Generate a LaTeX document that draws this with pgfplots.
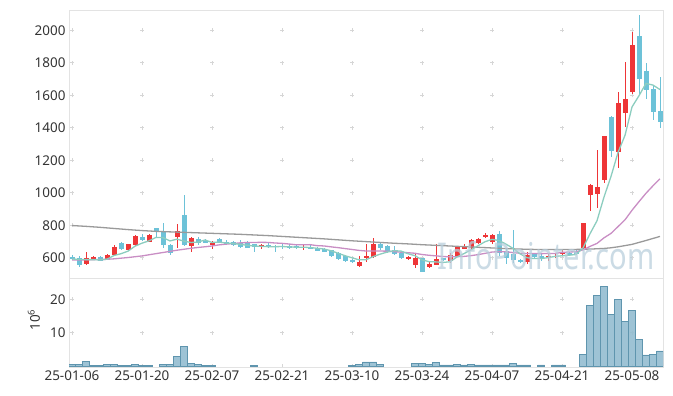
\documentclass[border=0pt]{standalone}
\usepackage{pgfplots}
\pgfplotsset{compat=1.18}
\usepackage{pgfplotstable}
\usepackage{fontspec}
\setmainfont{Noto Sans}
\definecolor{upc}{HTML}{EE3537}
\definecolor{dnc}{HTML}{6DC2D8}
\definecolor{mafive}{HTML}{8CCDBF}
\definecolor{matwenty}{HTML}{C98EC4}
\definecolor{masixty}{HTML}{9A9A9A}
\definecolor{volf}{HTML}{93BDD0}
\definecolor{vold}{HTML}{5F95AE}
\definecolor{gridc}{HTML}{D6D6D6}
\definecolor{framec}{HTML}{E3E3E3}
\definecolor{tickc}{HTML}{333333}
\definecolor{wm}{HTML}{B9CFDC}

\pgfplotstableread{
i o h l c
0 606 618 585 592
1 600 612 545 555
2 560 633 555 598
3 588 610 585 604
4 606 612 577 581
5 590 620 586 616
6 614 680 610 668
7 690 695 650 654
8 648 686 645 682
9 676 740 670 734
10 730 745 700 709
11 699 745 695 740
12 780 785 730 760
13 758 815 662 676
14 676 686 614 631
15 727 809 662 764
16 860 983 670 678
17 672 729 637 719
18 715 725 680 690
19 705 715 688 694
20 676 705 655 688
21 718 722 688 692
22 698 708 682 686
23 696 700 674 678
24 690 706 662 666
25 698 702 658 662
26 682 686 635 668
27 666 682 655 676
28 678 688 660 668
29 674 680 637 664
30 674 682 655 668
31 672 684 652 658
32 672 678 655 664
33 662 676 650 668
34 668 676 652 656
35 662 665 640 643
36 656 660 632 637
37 645 650 603 610
38 627 632 588 592
39 610 615 576 580
40 586 590 570 578
41 549 612 545 575
42 600 686 573 612
43 606 719 600 686
44 682 690 650 657
45 670 676 630 641
46 645 670 614 620
47 627 631 594 600
48 592 608 584 604
49 555 631 538 596
50 596 600 510 515
51 543 576 535 563
52 555 686 553 592
53 596 600 580 588
54 580 631 565 616
55 610 668 604 664
56 658 686 655 666
57 657 715 645 707
58 690 719 682 715
59 727 750 719 739
60 698 748 686 737
61 743 764 610 631
62 641 660 559 596
63 620 773 569 584
64 584 590 567 573
65 575 637 559 616
66 625 630 596 604
67 610 625 580 596
68 596 620 580 612
69 606 631 596 612
70 620 645 616 635
71 631 637 616 620
72 641 645 616 620
73 660 815 655 812
74 984 1055 890 1050
75 995 1264 907 1035
76 1080 1352 1060 1350
77 1465 1473 1223 1254
78 1248 1618 1152 1550
79 1489 1806 1403 1577
80 1618 1990 1610 1908
81 1963 2092 1608 1698
82 1749 1796 1577 1632
83 1636 1660 1448 1499
84 1503 1714 1397 1438
}\candles

\pgfplotstableread{
i v
0 592
1 590
2 588
3 588
4 586
5 590.8
6 613.4
7 624.6
8 640.2
9 670.8
10 689.4
11 703.8
12 725
13 723.8
14 703.2
15 714.2
16 701.8
17 693.6
18 696.4
19 709
20 693.8
21 696.6
22 690
23 687.6
24 682
25 676.8
26 672
27 670
28 668
29 667.6
30 668.8
31 666.8
32 664.4
33 664.4
34 662.8
35 657.8
36 653.6
37 642.8
38 627.6
39 612.4
40 599.4
41 587
42 587.4
43 606.2
44 621.6
45 634.2
46 643.2
47 640.8
48 624.4
49 612.2
50 587
51 575.6
52 574
53 570.8
54 574.8
55 604.6
56 625.2
57 648.2
58 673.6
59 698.2
60 712.8
61 705.8
62 683.6
63 657.4
64 624.2
65 600
66 594.6
67 594.6
68 600.2
69 608
70 611.8
71 615
72 619.8
73 659.8
74 747.4
75 827.4
76 973.4
77 1100.2
78 1247.8
79 1353.2
80 1527.8
81 1597.4
82 1673
83 1662.8
84 1635
}\mafivetab

\pgfplotstableread{
i v
0 586
1 586
2 587
3 588
4 589
5 590
6 593
7 597
8 601
9 606
10 611
11 618
12 625
13 632
14 639
15 646
16 652
17 658
18 663
19 667.3
20 672.1
21 678.9
22 683.3
23 687
24 691.3
25 693.6
26 693.6
27 694.7
28 694
29 690.5
30 688.4
31 684.3
32 679.5
33 679.1
34 680.4
35 674.3
36 672.3
37 666.8
38 661.9
39 656.2
40 650.7
41 644.9
42 641.2
43 641.6
44 641.1
45 640.1
46 637.7
47 633.9
48 630.7
49 627.3
50 619.6
51 614.9
52 611.3
53 607.3
54 605.3
55 606.3
56 607.8
57 612.6
58 618.8
59 626.7
60 634.7
61 637.5
62 636.7
63 631.6
64 627.4
65 626.1
66 625.3
67 625.1
68 625.5
69 626.3
70 632.3
71 635.2
72 636.6
73 647.8
74 669.5
75 688
76 722.2
77 749.6
78 791.3
79 833.2
80 891.8
81 945.1
82 996.9
83 1042.7
84 1085.9
}\matwentytab

\pgfplotstableread{
i v
0 798
2 793
4 787
6 780
8 773
10 767
12 762
14 759
16 756
18 753
20 750
22 747
24 744
26 740
28 736
30 731
32 726
34 721
36 716
38 710
40 704
42 699
44 694
46 689
48 685
50 680
52 676
54 672
56 668
58 664
60 660
62 656
64 653
66 651
68 650
70 650
72 651
74 653
76 657
77 661
78 667
80 682
82 706
84 731
}\masixtytab

\pgfplotstableread{
i v
0 0.5
1 0.5
2 1.3
3 0.2
4 0.2
5 0.4
6 0.4
7 0.2
8 0.2
9 0.4
10 0.2
11 0.2
13 0.4
14 0.4
15 2.8
16 5.8
17 0.7
18 0.4
19 0.2
20 0.2
26 0.2
40 0.1
41 0.4
42 1.2
43 1.2
44 0.4
49 0.7
50 0.7
51 0.5
52 1.1
53 0.3
54 0.3
55 0.5
56 0.3
57 0.5
58 0.3
59 0.3
60 0.3
61 0.3
62 0.3
63 0.8
64 0.3
65 0.3
67 0.3
69 0.3
70 0.3
73 3.5
74 18.0
75 21.0
76 23.9
77 15.4
78 20.0
79 13.3
80 16.6
81 8.0
82 3.3
83 3.5
84 4.5
}\voltab

\pgfplotsset{
  base/.style={
    scale only axis, width=594bp,
    xmin=-0.43, xmax=84.43,
    axis line style={framec, line width=0.8bp},
    major tick length=0,
    xtick={0,10,...,80},
    grid=major,
    tick label style={font=\fontsize{13.5}{16}\selectfont, text=tickc},
    /pgf/number format/assume math mode=true,
    /pgf/number format/1000 sep={},
    y grid style={gridc, line width=0.8bp, dash pattern=on 4bp off 66bp, dash phase=69bp},
  }
}

\begin{document}
\begin{tikzpicture}
\path[use as bounding box] (0,0) rectangle (673bp,396bp);
\begin{axis}[base,
  at={(69bp,118bp)}, anchor=south west, height=268bp,
  ymin=475, ymax=2125,
  ytick={600,800,...,2000},
  xticklabels={},
  x grid style={gridc, line width=0.8bp, dash pattern=on 4bp off 28.485bp, dash phase=14.18bp},
]
% wicks
\addplot[draw=none, mark=none, forget plot,
  restrict expr to domain={\thisrow{c}-\thisrow{o}}{0:100000},
  error bars/.cd, y dir=both, y explicit, error mark=none,
  error bar style={draw=upc, line width=1bp}]
  table[x=i, y expr={(\thisrow{h}+\thisrow{l})/2}, y error expr={(\thisrow{h}-\thisrow{l})/2}] {\candles};
\addplot[draw=none, mark=none, forget plot,
  restrict expr to domain={\thisrow{c}-\thisrow{o}}{-100000:-0.001},
  error bars/.cd, y dir=both, y explicit, error mark=none,
  error bar style={draw=dnc, line width=1bp}]
  table[x=i, y expr={(\thisrow{h}+\thisrow{l})/2}, y error expr={(\thisrow{h}-\thisrow{l})/2}] {\candles};
% bodies
\addplot[draw=none, mark=none, forget plot,
  restrict expr to domain={\thisrow{c}-\thisrow{o}}{0:100000},
  error bars/.cd, y dir=both, y explicit, error mark=none,
  error bar style={draw=upc, line width=5bp}]
  table[x=i, y expr={(\thisrow{o}+\thisrow{c})/2}, y error expr={abs(\thisrow{c}-\thisrow{o})/2}] {\candles};
\addplot[draw=none, mark=none, forget plot,
  restrict expr to domain={\thisrow{c}-\thisrow{o}}{-100000:-0.001},
  error bars/.cd, y dir=both, y explicit, error mark=none,
  error bar style={draw=dnc, line width=5bp}]
  table[x=i, y expr={(\thisrow{o}+\thisrow{c})/2}, y error expr={abs(\thisrow{c}-\thisrow{o})/2}] {\candles};
% moving averages
\addplot[masixty, line width=1.3bp, mark=none] table[x=i, y=v] {\masixtytab};
\addplot[matwenty, line width=1.3bp, mark=none] table[x=i, y=v] {\matwentytab};
\addplot[mafive, line width=1.3bp, mark=none] table[x=i, y=v] {\mafivetab};
\node[anchor=base west, inner sep=0pt, font=\fontsize{37}{40}\selectfont, text=wm, opacity=0.75, xscale=0.79]
  at (rel axis cs:0.6195,0.03) {InfoPointer.com};
\end{axis}
\begin{axis}[base,
  at={(69bp,29bp)}, anchor=south west, height=89bp,
  ymin=-0.3, ymax=26.35,
  ytick={10,20},
  xticklabels={25-01-06,25-01-20,25-02-07,25-02-21,25-03-10,25-03-24,25-04-07,25-04-21,25-05-08},
  x grid style={gridc, line width=0.8bp, dash pattern=on 4bp off 29.4bp, dash phase=1.0bp},
  ylabel={10\textsuperscript{6}},
  ylabel style={at={(axis description cs:-0.059,0.53)}, anchor=center, font=\fontsize{13.5}{16}\selectfont, text=tickc},
]
\addplot[ybar, bar width=1, bar shift=0pt, fill=volf, fill opacity=0.9, draw=vold, line width=0.8bp] table[x=i, y=v] {\voltab};
\end{axis}
\end{tikzpicture}
\end{document}
